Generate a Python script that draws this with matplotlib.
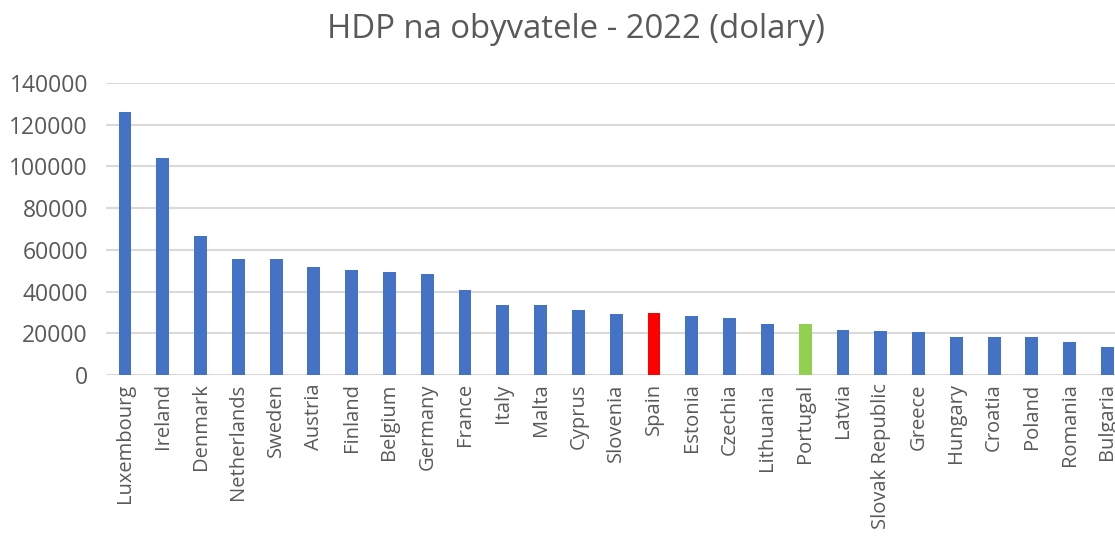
import matplotlib
matplotlib.use("Agg")
import matplotlib.pyplot as plt

plt.rcParams['font.family'] = ['Open Sans', 'DejaVu Sans']

countries = ["Luxembourg", "Ireland", "Denmark", "Netherlands", "Sweden", "Austria",
             "Finland", "Belgium", "Germany", "France", "Italy", "Malta", "Cyprus",
             "Slovenia", "Spain", "Estonia", "Czechia", "Lithuania", "Portugal",
             "Latvia", "Slovak Republic", "Greece", "Hungary", "Croatia", "Poland",
             "Romania", "Bulgaria"]
gdp = [126100, 103800, 66700, 55700, 55600, 51900, 50100, 49300, 48200, 40700,
       33700, 33500, 31100, 29200, 29500, 28100, 27500, 24600, 24400, 21600,
       20900, 20400, 18200, 18000, 18000, 15600, 13600]
# zvýraznění
highlight = {"Spain": "#FF0000", "Portugal": "#92D050"}

colors = [highlight.get(c, "#4472C4") for c in countries]

fig = plt.figure(figsize=(11.15, 5.40), dpi=100)
ax = fig.add_axes([0.0951, 0.3056, 0.949, 0.5407])

x = range(len(countries))
ax.bar(x, gdp, width=0.34, color=colors, zorder=3)

# graf je vpravo oříznutý
ax.set_xlim(-0.5, len(countries) + 0.5)
ax.set_ylim(0, 140000)
ax.set_yticks(range(0, 140001, 20000))
ax.set_xticks(list(x))
ax.set_xticklabels(countries, rotation=90)
ax.tick_params(axis='x', length=0, pad=6, labelsize=14.5, labelcolor="#595959")
ax.tick_params(axis='y', length=0, pad=13, labelsize=16.5, labelcolor="#595959")
ax.grid(axis='y', color="#D9D9D9", linewidth=1.5, zorder=0)
for s in ax.spines.values():
    s.set_visible(False)

fig.text(0.5166, 1 - 30 / 540, "HDP na obyvatele - 2022 (dolary)",
         ha='center', va='center', fontsize=23.7, color="#595959")

fig.savefig("out.png", dpi=100)
